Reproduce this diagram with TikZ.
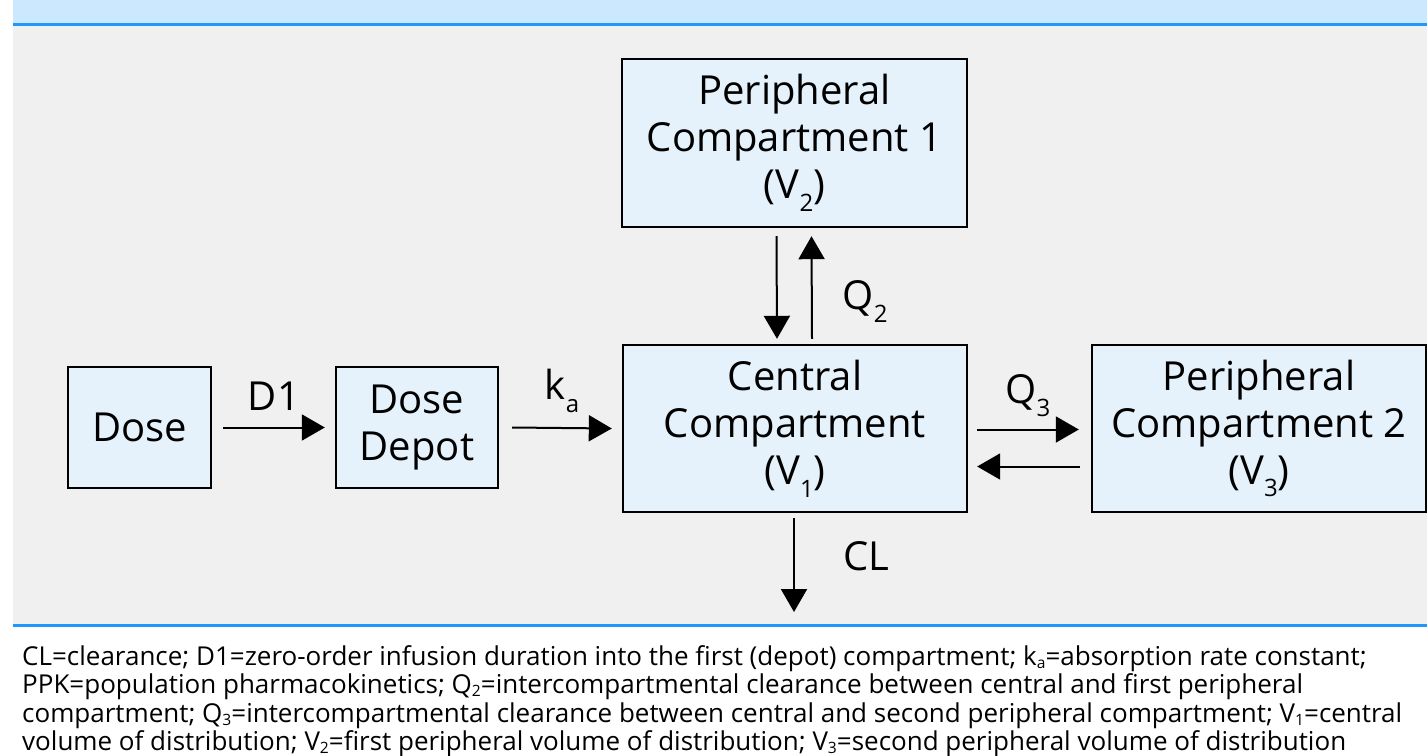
\documentclass[tikz,border=0pt]{standalone}
\usepackage{fontspec}
\setmainfont{Open Sans}
\usetikzlibrary{arrows.meta, positioning}
\definecolor{pkbar}{HTML}{CCE8FF}
\definecolor{pkline}{HTML}{1E98FF}
\definecolor{pkpanel}{HTML}{F0F0F0}
\definecolor{pkfill}{HTML}{E6F2FB}
% lowered, small subscripts as in the figure (diagram / legend)
\newcommand{\pksub}[1]{\raisebox{-0.32em}{\scalebox{0.6}{#1}}}
\newcommand{\capsub}[1]{\raisebox{-0.12em}{\scalebox{0.6}{#1}}}
\tikzset{
  cbox/.style={draw=black, fill=pkfill, line width=2.4pt, align=center,
               inner sep=0pt, font=\fontsize{40}{47}\selectfont},
  arr/.style={-{Triangle[length=23pt,width=26pt]}, line width=2pt},
  lbl/.style={font=\fontsize{40}{44}\selectfont, inner sep=0pt},
  captext/.style={font=\fontsize{26}{28.5}\selectfont, align=left, inner sep=0pt},
}

\begin{document}
\begin{tikzpicture}[x=1pt, y=-1pt]
    \useasboundingbox (0,0) rectangle (1427,755);
    % header strip and grey panel
    \fill[pkbar] (13,0) rectangle (1427,23);
    \fill[pkline] (13,23) rectangle (1427,26);
    \fill[pkpanel] (13,26) rectangle (1427,624);
    \fill[pkline] (13,624) rectangle (1427,627);

    \node[cbox, minimum width=143pt, minimum height=121pt] (dose) at (139.5, 427.5) {Dose};
    \node[cbox, minimum width=162pt, minimum height=121pt] (depot) at (417, 427.5) {Dose\\Depot};
    \node[cbox, minimum width=344pt, minimum height=167pt] (central) at (795, 428.5) {Central\\Compartment\\(V\pksub{1})};
    \node[cbox, minimum width=345pt, minimum height=168pt] (peri1) at (794.5, 143) {Peripheral\\Compartment 1\\(V\pksub{2})};
    \node[cbox, minimum width=334pt, minimum height=167pt] (peri2) at (1259, 428.5) {Peripheral\\Compartment 2\\(V\pksub{3})};
    \coordinate (clend) at (794, 612);

    \draw[arr] ([xshift=11pt]dose.east) -- node[lbl, above=16pt] {D1} ([xshift=-10pt]depot.west);
    \draw[arr] ([xshift=13pt]depot.east) -- node[lbl, above=14pt] {k\pksub{a}} ([xshift=-10pt]central.west);
    \draw[arr] ([xshift=-18pt, yshift=-8pt]peri1.south) -- ([xshift=-18pt, yshift=5pt]central.north);
    \draw[arr] ([xshift=17pt, yshift=5pt]central.north) -- node[pos=0.36, lbl, right=30pt] {Q\pksub{2}} ([xshift=17pt, yshift=-8pt]peri1.south);
    \draw[arr] ([xshift=9pt, yshift=-1pt]central.east) -- node[lbl, above=12pt] {Q\pksub{3}} ([xshift=-12pt, yshift=-1pt]peri2.west);
    \draw[arr] ([xshift=-11pt, yshift=-38pt]peri2.west) -- ([xshift=9pt, yshift=-38pt]central.east);
    \draw[arr] ([yshift=-5pt]central.south -| clend) -- node[pos=0.4, lbl, right=48pt] {CL} (clend);

    \node[captext, anchor=north west] (legend) at (22, 645) {CL=clearance; D1=zero-order infusion duration into the first (depot) compartment; k\capsub{a}=absorption rate constant;\\
PPK=population pharmacokinetics; Q\capsub{2}=intercompartmental clearance between central and first peripheral\\
compartment; Q\capsub{3}=intercompartmental clearance between central and second peripheral compartment; V\capsub{1}=central\\
volume of distribution; V\capsub{2}=first peripheral volume of distribution; V\capsub{3}=second peripheral volume of distribution};
  \end{tikzpicture}
\end{document}
